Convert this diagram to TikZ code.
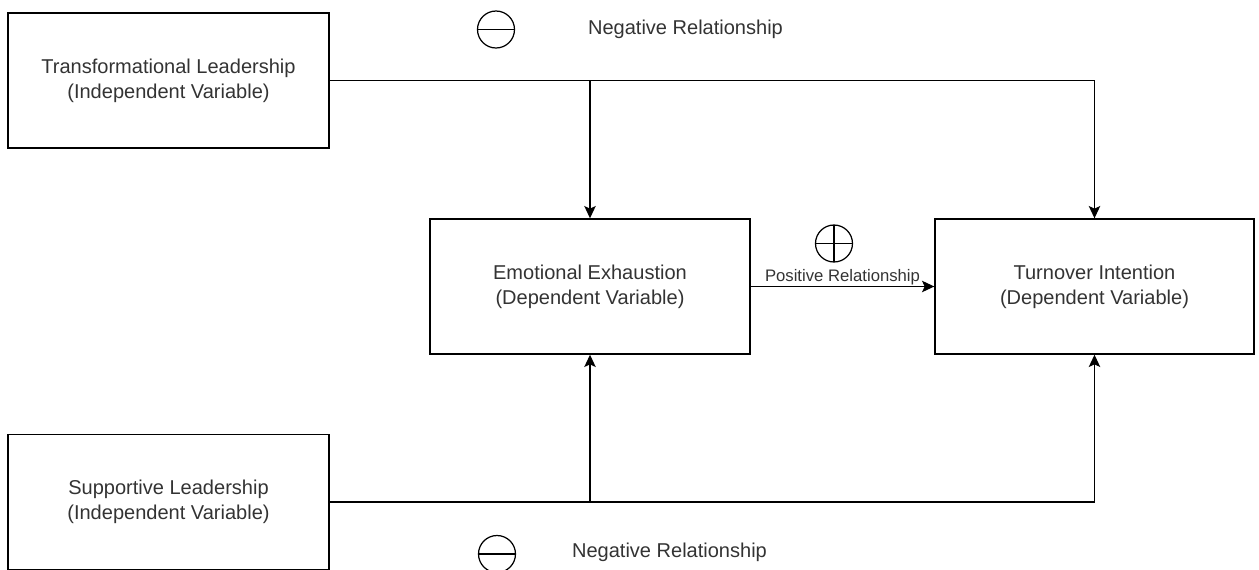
\documentclass[tikz,border=0pt]{standalone}
\usepackage{fontspec}
\setmainfont{Liberation Sans}
\usepackage{tikz}
\usetikzlibrary{arrows.meta}
\usetikzlibrary{positioning}
\tikzstyle{var_box}=[draw=black, line width=0.8pt, rectangle, minimum width=6.42cm, minimum height=2.7cm, align=center, text=black!80, font=\fontsize{11.4}{14.2}\selectfont]
\tikzstyle{arr}=[line width=0.8pt, -{Stealth[length=7pt,width=6.5pt,inset=1.5pt]}]
\tikzstyle{sign_circle}=[circle, draw=black, line width=0.7pt, minimum size=0.74cm, inner sep=0pt]
\tikzset{
  sign_minus/.style={sign_circle,
    path picture={
        \draw (path picture bounding box.west) --
        (path picture bounding box.east);
    }
  },
  sign_plus/.style={sign_circle,
    path picture={
        \draw (path picture bounding box.west) --
        (path picture bounding box.east)
        (path picture bounding box.north) --
        (path picture bounding box.south);
    }
  }
}
\tikzstyle{rel_text}=[text=black!80, font=\fontsize{11.4}{14.2}\selectfont]
\begin{document}
\begin{tikzpicture}[x=0.02cm, y=-0.02cm]
          \useasboundingbox (0,0) rectangle (1259,569);
          \node[var_box] (tl) at (168.5,80.5){Transformational Leadership\\(Independent Variable)};
          \node[var_box] (sl) at (168.5,502){Supportive Leadership\\(Independent Variable)};
          \node[var_box, minimum width=6.4cm] (ee) at (590,286.5){Emotional Exhaustion\\(Dependent Variable)};
          \node[var_box, minimum width=6.38cm] (ti) at (1094.5,286.5){Turnover Intention\\(Dependent Variable)};
          \coordinate (jtop) at (ee.north |- tl.east);
          \coordinate (jbot) at (ee.south |- sl.east);
          \draw[arr](tl) -| (ti);
          \draw[arr](jtop) -- (ee);
          \draw[arr](sl) -| (ti);
          \draw[arr](jbot) -- (ee);
          \draw[arr](ee) -- node[above, inner sep=0.5pt, text=black!80, font=\fontsize{9.5}{11}\selectfont]{Positive Relationship} (ti);
          \node[sign_minus] (neg1) at (496,29.5){};
          \node[rel_text] (neglbl1) at (685.5,29.5){Negative Relationship};
          \node[sign_plus] (pos1) at (834,243.5){};
          \node[sign_minus] (neg2) at (497,554){};
          \node[rel_text] (neglbl2) at (669.5,552){Negative Relationship};
        \end{tikzpicture}
\end{document}
